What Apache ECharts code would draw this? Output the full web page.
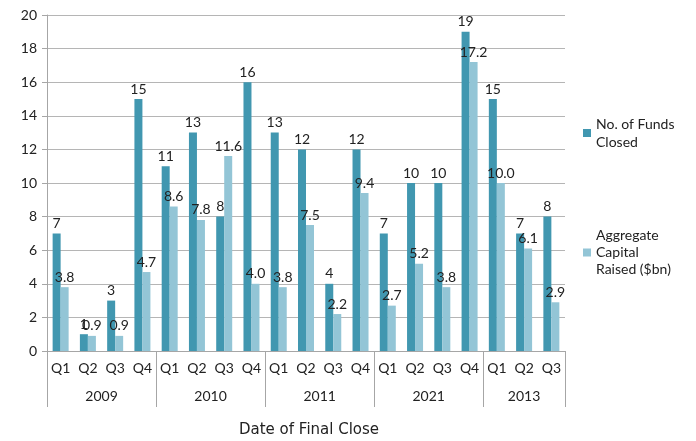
<!DOCTYPE html>
<html><head><meta charset="utf-8">
<script src="https://cdn.jsdelivr.net/npm/echarts@6/dist/echarts.min.js"></script>
<style>html,body{margin:0;padding:0;background:#fff}#c{width:696px;height:441px}</style>
</head><body><div id="c"></div>
<script>
const years = ['2009','2010','2011','2021','2013'];
const quartersPerYear = [4,4,4,4,3];
const quarters = ['Q1','Q2','Q3','Q4','Q1','Q2','Q3','Q4','Q1','Q2','Q3','Q4','Q1','Q2','Q3','Q4','Q1','Q2','Q3'];
const fundsClosed = [7,1,3,15, 11,13,8,16, 13,12,4,12, 7,10,10,19, 15,7,8];
const capitalRaised = [3.8,0.9,0.9,4.7, 8.6,7.8,11.6,4.0, 3.8,7.5,2.2,9.4, 2.7,5.2,3.8,17.2, 10.0,6.1,2.9];
const capitalLabels = ['3.8','0.9','0.9','4.7','8.6','7.8','11.6','4.0','3.8','7.5','2.2','9.4','2.7','5.2','3.8','17.2','10.0','6.1','2.9'];
const seriesNames = ['No. of Funds Closed','Aggregate Capital Raised ($bn)'];
const legendText = {'No. of Funds Closed':'No. of Funds\nClosed','Aggregate Capital Raised ($bn)':'Aggregate\nCapital\nRaised ($bn)'};
const axisTitle = 'Date of Final Close';

const bounds=[0]; quartersPerYear.forEach(n=>bounds.push(bounds[bounds.length-1]+n));
const mids = quartersPerYear.map((n,i)=>bounds[i]+n/2);

const FONT = 'Lato';
const chart = echarts.init(document.getElementById('c'));
chart.setOption({
  animation:false,
  textStyle:{fontFamily:FONT},
  grid:{left:47,right:131,top:15,bottom:90,outerBoundsMode:'none',containLabel:false},
  legend:[
    {data:[seriesNames[0]],orient:'vertical',left:578,top:110,itemWidth:8,itemHeight:8,icon:'rect',
     formatter:n=>legendText[n],textStyle:{fontSize:14,color:'#222',lineHeight:18,fontFamily:FONT}},
    {data:[seriesNames[1]],orient:'vertical',left:578,top:222,itemWidth:8,itemHeight:8,icon:'rect',
     formatter:n=>legendText[n],textStyle:{fontSize:14,color:'#222',lineHeight:17,fontFamily:FONT}}
  ],
  graphic:[{type:'text',left:239,top:423,style:{text:axisTitle,fontFamily:'DejaVu Sans',fontSize:15,fill:'#222'}}],
  xAxis:[
    {type:'category',data:quarters,position:'bottom',
     axisLine:{lineStyle:{color:'#a6a6a6'}},
     axisTick:{interval:0,length:28,lineStyle:{color:'#a6a6a6'}},
     axisLabel:{interval:0,fontSize:14,color:'#222',margin:10}},
    {type:'value',min:0,max:bounds[bounds.length-1],position:'bottom',
     axisLine:{show:false},splitLine:{show:false},
     axisTick:{show:true,customValues:bounds,length:56,lineStyle:{color:'#a6a6a6'}},
     axisLabel:{customValues:mids,formatter:v=>years[mids.indexOf(v)]||'',fontSize:14,color:'#222',margin:38}}
  ],
  yAxis:{type:'value',min:0,max:20,interval:2,
    axisLine:{show:true,lineStyle:{color:'#a6a6a6'}},
    axisTick:{show:true,length:5,lineStyle:{color:'#a6a6a6'}},
    splitLine:{lineStyle:{color:'#b5b5b5'}},
    axisLabel:{fontSize:14,color:'#222',margin:10}},
  series:[
    {name:seriesNames[0],type:'bar',data:fundsClosed,barWidth:8,barGap:'0%',
     itemStyle:{color:'#4197b0'},
     label:{show:true,position:'top',fontSize:14,color:'#222',distance:3}},
    {name:seriesNames[1],type:'bar',data:capitalRaised,barWidth:8,barGap:'0%',
     itemStyle:{color:'#93c5d6'},
     label:{show:true,position:'top',fontSize:14,color:'#222',distance:3,
       formatter:p=>capitalLabels[p.dataIndex]}}
  ]
});
</script></body></html>
